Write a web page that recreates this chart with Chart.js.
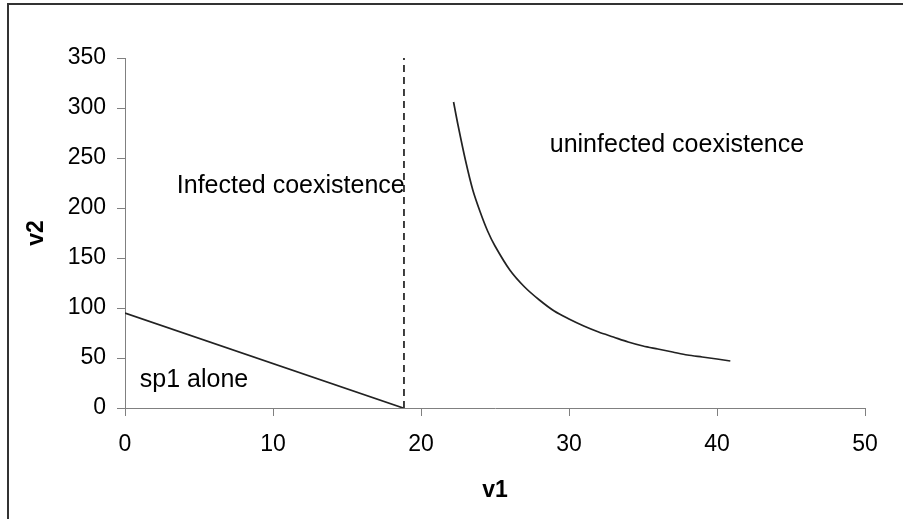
<!DOCTYPE html>
<html>
<head>
<meta charset="utf-8">
<script src="https://cdn.jsdelivr.net/npm/chart.js@4"></script>
<style>
  html, body { margin: 0; padding: 0; background: #fff; overflow: hidden; }
  #wrap { position: relative; width: 903px; height: 519px; }
  #frame { position: absolute; left: 7px; top: 3px; width: 1000px; height: 1000px; border: 2px solid #333; }
</style>
</head>
<body>
<div id="wrap">
  <canvas id="phaseChart"></canvas>
  <div id="frame"></div>
</div>
<script>
// sp1-alone boundary (straight line down to the x axis)
const lineX = [0, 18.8];
const lineY = [95, 0];

// vertical dashed boundary
const dashX = [18.85, 18.85];
const dashY = [0, 350];

// uninfected coexistence boundary (curve)
const curveX = [22.2, 22.5, 23, 23.5, 24, 24.5, 25, 26, 27, 28, 29, 30, 31, 32, 33, 34, 35, 36, 37, 38, 39, 40, 40.9];
const curveY = [306, 283, 248, 218, 196, 177, 162, 138, 121, 108, 97, 89, 82, 76, 71, 66, 62, 59, 56, 53, 51, 49, 47];

const xTicks = [0, 10, 20, 30, 40, 50];
const yTicks = [0, 50, 100, 150, 200, 250, 300, 350];

// region labels, placed in data units
const regionLabels = [
    { text: 'Infected coexistence', x: 3.5, y: 222 },
    { text: 'uninfected coexistence', x: 28.7, y: 263 },
    { text: 'sp1 alone', x: 1.0, y: 28 }
];

const toPoints = (xs, ys) => xs.map((x, i) => ({ x: x, y: ys[i] }));

const FONT = '"Liberation Sans", Arial, sans-serif';

const regionLabelPlugin = {
    id: 'regionLabels',
    afterDatasetsDraw(chart) {
        const ctx = chart.ctx;
        const xs = chart.scales.x, ys = chart.scales.y;
        ctx.save();
        ctx.font = '25px ' + FONT;
        ctx.fillStyle = '#000';
        ctx.textAlign = 'left';
        ctx.textBaseline = 'middle';
        regionLabels.forEach(l => {
            ctx.fillText(l.text, xs.getPixelForValue(l.x), ys.getPixelForValue(l.y));
        });
        ctx.restore();
    }
};

document.addEventListener("DOMContentLoaded", () => {
    const ctx = document.getElementById('phaseChart').getContext('2d');

    new Chart(ctx, {
        type: 'scatter',
        data: {
            datasets: [
                {
                    data: toPoints(lineX, lineY),
                    showLine: true,
                    borderColor: '#222',
                    borderWidth: 1.7,
                    pointRadius: 0
                },
                {
                    data: toPoints(dashX, dashY),
                    showLine: true,
                    borderColor: '#000',
                    borderWidth: 1.5,
                    borderDash: [7, 5],
                    pointRadius: 0
                },
                {
                    data: toPoints(curveX, curveY),
                    showLine: true,
                    borderColor: '#222',
                    borderWidth: 1.7,
                    tension: 0.3,
                    pointRadius: 0
                }
            ]
        },
        options: {
            responsive: true,
            maintainAspectRatio: false,
            animation: false,
            layout: { padding: { left: 0, top: 58, right: 38, bottom: 0 } },
            plugins: {
                legend: { display: false },
                tooltip: { enabled: false }
            },
            scales: {
                x: {
                    type: 'linear',
                    min: 0,
                    max: 50,
                    afterBuildTicks: s => { s.ticks = xTicks.map(v => ({ value: v })); },
                    afterFit: s => { s.height = 111; },
                    grid: { drawOnChartArea: false, drawTicks: true, tickLength: 8, color: '#808080' },
                    border: { display: true, color: '#808080', width: 1 },
                    ticks: { color: '#000', font: { family: FONT, size: 23 }, padding: 15, maxRotation: 0 },
                    title: {
                        display: true,
                        text: 'v1',
                        color: '#000',
                        font: { family: FONT, size: 23, weight: 'bold' },
                        padding: { top: 0, bottom: 15 }
                    }
                },
                y: {
                    type: 'linear',
                    min: 0,
                    max: 350,
                    afterBuildTicks: s => { s.ticks = yTicks.map(v => ({ value: v })); },
                    afterFit: s => { s.width = 125; },
                    grid: { drawOnChartArea: false, drawTicks: true, tickLength: 8, color: '#808080' },
                    border: { display: true, color: '#808080', width: 1 },
                    ticks: { color: '#000', font: { family: FONT, size: 23 }, padding: 11 },
                    title: {
                        display: true,
                        text: 'v2',
                        color: '#000',
                        font: { family: FONT, size: 23, weight: 'bold' },
                        padding: { top: 23, bottom: 0 }
                    }
                }
            }
        },
        plugins: [regionLabelPlugin]
    });
});
</script>
</body>
</html>
